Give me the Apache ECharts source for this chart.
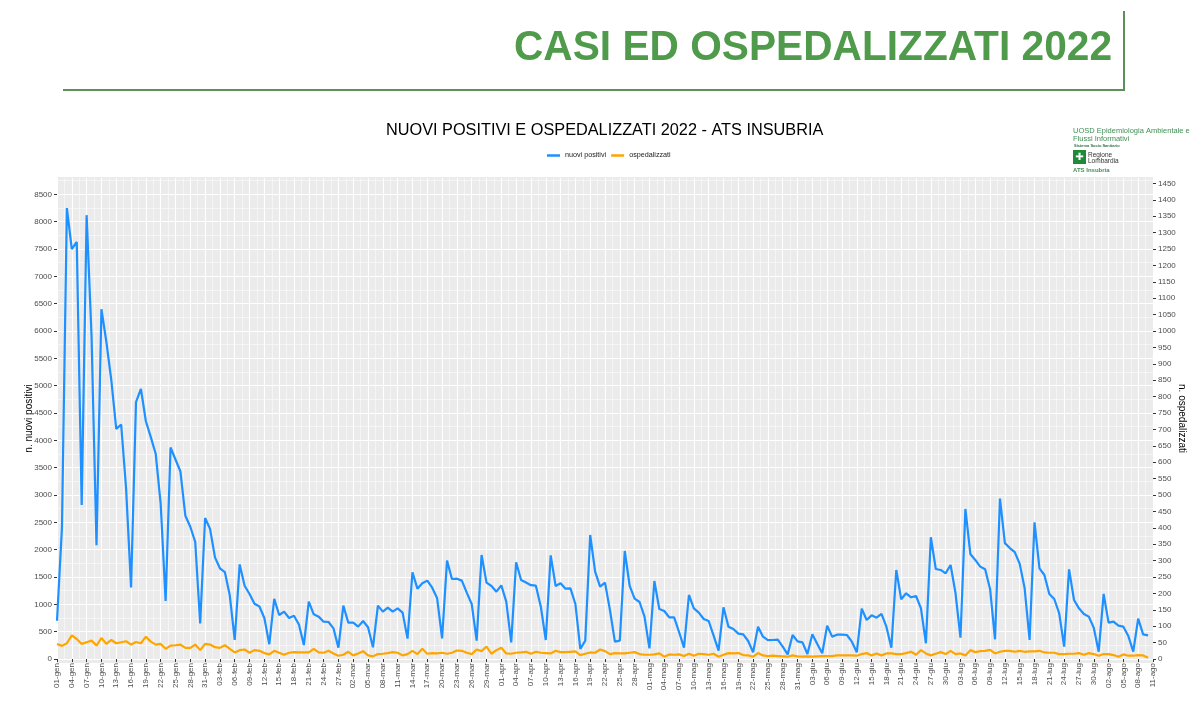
<!DOCTYPE html>
<html>
<head>
<meta charset="utf-8">
<title>Casi ed ospedalizzati 2022</title>
<script src="https://cdn.jsdelivr.net/npm/echarts@6/dist/echarts.min.js"></script>
<style>
    html, body { margin: 0; padding: 0; background: #fff; }
    #chart { width: 1196px; height: 721px; }
</style>
</head>
<body>
<div id="chart"></div>
<script>
// mesi e giorni per costruire le etichette dell'asse x (01-gen ... 11-ago)
const mesi = ['gen', 'feb', 'mar', 'apr', 'mag', 'giu', 'lug', 'ago'];
const giorniMese = [31, 28, 31, 30, 31, 30, 31, 11];

// nuovi positivi giornalieri (asse sinistro)
const nuoviPositivi = [
    700, 2400, 8250, 7500, 7630, 2820, 8120, 5900, 2080, 6400,
    5800, 5100, 4210, 4290, 3110, 1310, 4700, 4940, 4350, 4060,
    3750, 2840, 1060, 3870, 3650, 3430, 2620, 2420, 2140, 650,
    2580, 2380, 1860, 1660, 1590, 1160, 350, 1730, 1340, 1190,
    1010, 960, 750, 270, 1100, 805, 866, 750, 790, 630,
    256, 1050, 817, 775, 683, 677, 561, 207, 976, 665,
    665, 592, 695, 580, 214, 976, 866, 939, 866, 927,
    848, 372, 1586, 1287, 1385, 1434, 1305, 1110, 378, 1800,
    1464, 1470, 1434, 1214, 1007, 336, 1903, 1397, 1336, 1232,
    1348, 1049, 305, 1769, 1446, 1400, 1350, 1342, 958, 348,
    1897, 1336, 1385, 1287, 1293, 1007, 183, 336, 2269, 1598,
    1324, 1397, 897, 317, 336, 1976, 1336, 1104, 1043, 775,
    195, 1427, 915, 878, 763, 763, 494, 207, 1171, 927,
    848, 732, 695, 427, 153, 946, 592, 549, 464, 451,
    329, 122, 592, 409, 345, 348, 354, 226, 85, 439,
    323, 305, 92, 451, 275, 104, 610, 409, 445, 445,
    439, 317, 122, 921, 714, 799, 756, 824, 592, 207,
    1629, 1092, 1202, 1129, 1153, 927, 287, 2227, 1647, 1629,
    1568, 1720, 1202, 390, 2745, 1922, 1812, 1690, 1641, 1281,
    360, 2935, 2120, 2030, 1955, 1740, 1293, 348, 2500, 1659,
    1537, 1190, 1098, 836, 226, 1641, 1080, 927, 824, 775,
    573, 134, 1190, 665, 683, 610, 592, 421, 134, 738,
    451, 433
];

// ospedalizzati giornalieri (asse destro)
const ospedalizzati = [
    46, 40, 48, 72, 61, 46, 51, 56, 41, 64,
    46, 58, 48, 51, 54, 44, 52, 48, 68, 53,
    44, 46, 31, 41, 42, 44, 34, 34, 44, 27,
    46, 44, 36, 34, 42, 31, 20, 27, 29, 19,
    27, 25, 18, 14, 25, 19, 13, 19, 21, 20,
    20, 20, 31, 20, 19, 25, 17, 10, 13, 22,
    11, 17, 24, 11, 8, 15, 16, 18, 21, 19,
    11, 15, 25, 15, 31, 16, 18, 17, 19, 16,
    19, 26, 25, 19, 15, 29, 24, 38, 16, 27,
    34, 17, 16, 19, 20, 22, 16, 22, 19, 18,
    17, 25, 21, 21, 22, 23, 12, 16, 20, 19,
    29, 24, 15, 18, 17, 17, 19, 21, 15, 13,
    13, 14, 17, 7, 14, 13, 14, 9, 16, 10,
    16, 15, 13, 16, 7, 13, 18, 17, 18, 12,
    11, 7, 18, 11, 9, 10, 9, 8, 7, 11,
    8, 7, 8, 7, 8, 9, 9, 9, 11, 11,
    11, 11, 10, 15, 18, 11, 17, 11, 17, 17,
    15, 15, 18, 22, 13, 27, 17, 11, 16, 21,
    15, 25, 15, 17, 11, 27, 21, 24, 25, 28,
    17, 22, 25, 25, 22, 25, 22, 23, 23, 25,
    20, 19, 19, 15, 15, 16, 16, 18, 13, 18,
    15, 10, 15, 15, 12, 7, 14, 10, 10, 12,
    11, 4
];

const titolo = 'CASI ED OSPEDALIZZATI 2022';
const titoloGrafico = 'NUOVI POSITIVI E OSPEDALIZZATI 2022 - ATS INSUBRIA';
const legenda = ['nuovi positivi', 'ospedalizzati'];

let giorni = [];
mesi.forEach(function (m, i) {
    for (let g = 1; g <= giorniMese[i]; g++) {
        giorni.push((g < 10 ? '0' : '') + g + '-' + m);
    }
});

const font = '"Liberation Sans", Arial, sans-serif';
const verde = '#4F9A4B';

// il titolo in alto e' in un carattere stretto: lo comprimo alla larghezza giusta
let ctx = document.createElement('canvas').getContext('2d');
ctx.font = 'bold 42px ' + font;
let scalaTitolo = 598 / ctx.measureText(titolo).width;

// numeri senza separatore delle migliaia, come nel grafico originale
function numero(v) {
    return String(Math.round(v));
}

var myChart = echarts.init(document.getElementById('chart'));

var option = {
    animation: false,
    backgroundColor: '#fff',
    title: {
        text: titoloGrafico,
        left: 386,
        top: 123,
        padding: 0,
        textStyle: { fontFamily: font, fontSize: 16.3, fontWeight: 'normal', color: '#000' }
    },
    legend: {
        data: legenda,
        left: 547,
        top: 152,
        padding: 0,
        icon: 'rect',
        itemWidth: 13,
        itemHeight: 2.5,
        itemGap: 5,
        textStyle: { fontFamily: font, fontSize: 7.2, color: '#1a1a1a' }
    },
    grid: {
        left: 57,
        right: 43,
        top: 178,
        bottom: 62,
        containLabel: false
    },
    xAxis: [{
        type: 'category',
        data: giorni,
        boundaryGap: false,
        axisLine: { show: false },
        axisTick: { show: true, interval: 2, length: 3, lineStyle: { color: '#333' } },
        axisLabel: { interval: 2, rotate: 90, fontFamily: font, fontSize: 8, color: '#4D4D4D', margin: 4 },
        splitLine: { show: false }
    }, {
        // solo per la griglia verticale (maggiore ogni 3 giorni, minore a meta')
        type: 'value',
        min: 0,
        max: giorni.length - 1,
        interval: 3,
        position: 'bottom',
        axisLine: { show: false },
        axisTick: { show: false },
        axisLabel: { show: false },
        splitLine: { show: true, lineStyle: { color: '#fff', width: 1.1 } },
        minorTick: { show: false, splitNumber: 2 },
        minorSplitLine: { show: true, lineStyle: { color: '#fff', width: 0.5 } }
    }],
    yAxis: [{
        type: 'value',
        min: 0,
        max: 8800,
        interval: 500,
        position: 'left',
        name: 'n. nuovi positivi',
        nameLocation: 'middle',
        nameGap: 23,
        nameMoveOverlap: false,
        nameTextStyle: { fontFamily: font, fontSize: 10, color: '#000' },
        axisLine: { show: false },
        axisTick: { show: true, length: 3, lineStyle: { color: '#333' } },
        axisLabel: { fontFamily: font, fontSize: 8, color: '#4D4D4D', margin: 5, showMaxLabel: false, formatter: numero },
        splitLine: { show: true, showMaxLine: false, lineStyle: { color: '#fff', width: 1.1 } },
        minorTick: { show: false, splitNumber: 2 },
        minorSplitLine: { show: true, lineStyle: { color: '#fff', width: 0.5 } }
    }, {
        type: 'value',
        min: 0,
        max: 8800 / 6,
        interval: 50,
        position: 'right',
        name: 'n. ospedalizzati',
        nameLocation: 'middle',
        nameRotate: -90,
        nameGap: 24,
        nameMoveOverlap: false,
        nameTextStyle: { fontFamily: font, fontSize: 10, color: '#000' },
        axisLine: { show: false },
        axisTick: { show: true, length: 3, lineStyle: { color: '#333' } },
        axisLabel: { fontFamily: font, fontSize: 8, color: '#4D4D4D', margin: 5, showMaxLabel: false, formatter: numero },
        splitLine: { show: false }
    }],
    series: [{
        name: 'nuovi positivi',
        type: 'line',
        xAxisIndex: 0,
        yAxisIndex: 0,
        data: nuoviPositivi,
        symbol: 'none',
        color: '#1E90FF',
        lineStyle: { color: '#1E90FF', width: 2.2 }
    }, {
        name: 'ospedalizzati',
        type: 'line',
        xAxisIndex: 0,
        yAxisIndex: 1,
        data: ospedalizzati,
        symbol: 'none',
        color: '#FFA500',
        lineStyle: { color: '#FFA500', width: 2.2 }
    }],
    graphic: [
        // sfondo grigio del pannello
        { type: 'rect', z: -10, shape: { x: 57, y: 177, width: 1096, height: 486 }, style: { fill: '#EBEBEB' } },
        // intestazione
        {
            type: 'text', x: 514, y: 48, scaleX: scalaTitolo,
            style: { text: titolo, font: 'bold 42px ' + font, fill: verde, verticalAlign: 'middle' }
        },
        { type: 'line', shape: { x1: 63, y1: 90, x2: 1125, y2: 90 }, style: { stroke: '#5C8F5A', lineWidth: 2 } },
        { type: 'line', shape: { x1: 1124, y1: 11, x2: 1124, y2: 90 }, style: { stroke: '#5C8F5A', lineWidth: 2 } },
        // logo ATS
        { type: 'text', x: 1073, y: 131, style: { text: 'UOSD Epidemiologia Ambientale e', font: '7.5px ' + font, fill: '#3F8F55', verticalAlign: 'middle' } },
        { type: 'text', x: 1073, y: 139, style: { text: 'Flussi Informativi', font: '7.5px ' + font, fill: '#3F8F55', verticalAlign: 'middle' } },
        { type: 'text', x: 1074, y: 146, style: { text: 'Sistema Socio Sanitario', font: 'bold 4px ' + font, fill: '#2F6F45', verticalAlign: 'middle' } },
        { type: 'rect', shape: { x: 1073, y: 150, width: 13, height: 14 }, style: { fill: '#1F8A3A' } },
        { type: 'text', x: 1079.5, y: 157, style: { text: '✚', font: 'bold 10px "DejaVu Sans"', fill: '#fff', align: 'center', verticalAlign: 'middle' } },
        { type: 'text', x: 1088, y: 155, style: { text: 'Regione', font: '6.5px ' + font, fill: '#333', verticalAlign: 'middle' } },
        { type: 'text', x: 1088, y: 161, style: { text: 'Lombardia', font: '6.5px ' + font, fill: '#333', verticalAlign: 'middle' } },
        { type: 'text', x: 1073, y: 170, style: { text: 'ATS Insubria', font: 'bold 6px ' + font, fill: '#3F8F55', verticalAlign: 'middle' } }
    ]
};

myChart.setOption(option);
</script>
</body>
</html>
